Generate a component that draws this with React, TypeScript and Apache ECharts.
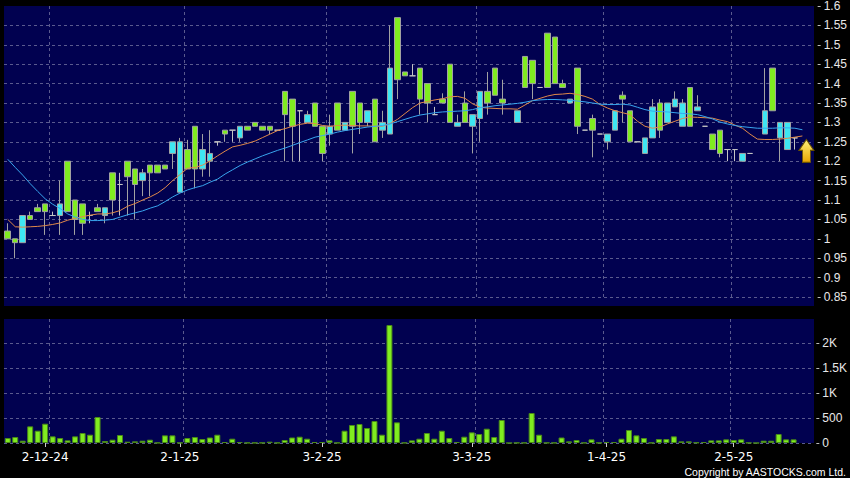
import React, { useEffect, useRef } from 'react';
import * as echarts from 'echarts';

const dates = [
  '25-11-24', '26-11-24', '27-11-24', '28-11-24', '29-11-24',
  '2-12-24', '3-12-24', '4-12-24', '5-12-24', '6-12-24', '9-12-24', '10-12-24', '11-12-24', '12-12-24', '13-12-24',
  '16-12-24', '17-12-24', '18-12-24', '19-12-24', '20-12-24', '23-12-24', '24-12-24', '27-12-24',
  '2-1-25', '3-1-25', '6-1-25', '7-1-25', '8-1-25', '9-1-25', '10-1-25', '13-1-25', '14-1-25', '15-1-25',
  '16-1-25', '17-1-25', '20-1-25', '21-1-25', '22-1-25', '23-1-25', '24-1-25', '27-1-25', '28-1-25',
  '3-2-25', '4-2-25', '5-2-25', '6-2-25', '7-2-25', '10-2-25', '11-2-25', '12-2-25', '13-2-25', '14-2-25',
  '17-2-25', '18-2-25', '19-2-25', '20-2-25', '21-2-25', '24-2-25', '25-2-25', '26-2-25', '27-2-25', '28-2-25',
  '3-3-25', '4-3-25', '5-3-25', '6-3-25', '7-3-25', '10-3-25', '11-3-25', '12-3-25', '13-3-25', '14-3-25',
  '17-3-25', '18-3-25', '19-3-25', '20-3-25', '21-3-25', '24-3-25', '25-3-25', '26-3-25',
  '1-4-25', '2-4-25', '3-4-25', '7-4-25', '8-4-25', '9-4-25', '10-4-25', '11-4-25', '14-4-25', '15-4-25',
  '16-4-25', '17-4-25', '22-4-25', '23-4-25', '24-4-25', '25-4-25', '28-4-25',
  '2-5-25', '6-5-25', '7-5-25', '8-5-25', '9-5-25', '12-5-25', '13-5-25', '14-5-25', '15-5-25', '16-5-25', '19-5-25',
];

// [open, close, low, high]; null = no trade
const ohlc: (number[] | null)[] = [
  [1.02, 1.00, 1.00, 1.04], [1.00, 0.99, 0.95, 1.00], [0.99, 1.06, 0.99, 1.06], [1.06, 1.05, 1.05, 1.07],
  [1.08, 1.07, 1.07, 1.09], [1.09, 1.07, 1.01, 1.09], [1.06, 1.06, 1.06, 1.07], [1.06, 1.09, 1.01, 1.15],
  [1.20, 1.07, 1.07, 1.20], [1.10, 1.05, 1.01, 1.10], [1.09, 1.04, 1.01, 1.09], [1.06, 1.06, 1.04, 1.07],
  [1.08, 1.07, 1.07, 1.09], [1.06, 1.08, 1.04, 1.08], [1.17, 1.10, 1.06, 1.17], [1.14, 1.14, 1.06, 1.17],
  [1.20, 1.16, 1.06, 1.20], [1.18, 1.14, 1.05, 1.18], [1.15, 1.17, 1.11, 1.18], [1.19, 1.17, 1.11, 1.19],
  [1.19, 1.17, 1.17, 1.19], [1.19, 1.18, 1.18, 1.19], [1.22, 1.25, 1.18, 1.25], [1.12, 1.25, 1.12, 1.26],
  [1.23, 1.18, 1.18, 1.255], [1.29, 1.18, 1.13, 1.29], [1.18, 1.23, 1.16, 1.27], [1.20, 1.22, 1.16, 1.28],
  [1.25, 1.25, 1.24, 1.25], [1.28, 1.27, 1.25, 1.28], [1.28, 1.28, 1.25, 1.28], [1.26, 1.29, 1.25, 1.29],
  [1.29, 1.28, 1.28, 1.29], [1.30, 1.29, 1.29, 1.30], [1.29, 1.28, 1.28, 1.29], [1.29, 1.28, 1.27, 1.29],
  [1.28, 1.28, 1.28, 1.28], [1.38, 1.32, 1.20, 1.38], [1.36, 1.29, 1.20, 1.36], [1.33, 1.33, 1.20, 1.33],
  [1.30, 1.32, 1.30, 1.33], [1.35, 1.29, 1.29, 1.35], [1.29, 1.22, 1.20, 1.29], [1.27, 1.29, 1.24, 1.32],
  [1.35, 1.28, 1.28, 1.35], [1.28, 1.30, 1.28, 1.30], [1.38, 1.29, 1.22, 1.38], [1.35, 1.30, 1.27, 1.35],
  [1.30, 1.33, 1.29, 1.33], [1.36, 1.25, 1.25, 1.36], [1.28, 1.30, 1.26, 1.33], [1.27, 1.44, 1.27, 1.55],
  [1.57, 1.41, 1.36, 1.57], [1.43, 1.42, 1.42, 1.43], [1.42, 1.42, 1.42, 1.45], [1.44, 1.36, 1.32, 1.44],
  [1.40, 1.35, 1.30, 1.40], [1.32, 1.32, 1.32, 1.34], [1.36, 1.35, 1.35, 1.375], [1.45, 1.30, 1.30, 1.45],
  [1.29, 1.30, 1.29, 1.32], [1.35, 1.30, 1.30, 1.38], [1.29, 1.32, 1.22, 1.32], [1.31, 1.38, 1.25, 1.38],
  [1.38, 1.35, 1.32, 1.43], [1.44, 1.37, 1.37, 1.44], [1.36, 1.35, 1.32, 1.41], null,
  [1.30, 1.33, 1.30, 1.33], [1.47, 1.39, 1.39, 1.47], [1.46, 1.40, 1.36, 1.46], [1.39, 1.39, 1.39, 1.39],
  [1.53, 1.39, 1.39, 1.53], [1.52, 1.40, 1.40, 1.52], [1.40, 1.39, 1.39, 1.41], [1.35, 1.36, 1.35, 1.36],
  [1.44, 1.29, 1.27, 1.44], [1.28, 1.28, 1.28, 1.28], [1.31, 1.28, 1.21, 1.32], [1.27, 1.27, 1.27, 1.27],
  [1.25, 1.27, 1.23, 1.27], [1.28, 1.33, 1.28, 1.33], [1.37, 1.36, 1.30, 1.38], [1.33, 1.25, 1.25, 1.33],
  [1.25, 1.25, 1.25, 1.25], [1.22, 1.26, 1.22, 1.26], [1.26, 1.34, 1.26, 1.36], [1.35, 1.28, 1.26, 1.36],
  [1.30, 1.35, 1.30, 1.35], [1.34, 1.36, 1.34, 1.38], [1.29, 1.35, 1.29, 1.36], [1.39, 1.29, 1.29, 1.39],
  [1.33, 1.34, 1.33, 1.37], [1.29, 1.29, 1.29, 1.29], [1.27, 1.23, 1.23, 1.27], [1.28, 1.22, 1.21, 1.28],
  [1.23, 1.23, 1.20, 1.23], [1.23, 1.23, 1.20, 1.23], [1.20, 1.22, 1.20, 1.22], [1.22, 1.22, 1.22, 1.22],
  null, [1.27, 1.33, 1.27, 1.44], [1.44, 1.33, 1.33, 1.44], [1.26, 1.30, 1.20, 1.30],
  [1.23, 1.30, 1.23, 1.30], [1.26, 1.26, 1.23, 1.26], null, null,
];

const ma10: (number | string)[] = [
  1.05, 1.031, 1.030, 1.031, 1.032, 1.034, 1.037, 1.041, 1.048, 1.053,
  1.057, 1.061, 1.064, 1.064, 1.067, 1.073, 1.084, 1.091, 1.100, 1.108,
  1.118, 1.132, 1.150, 1.166, 1.182, 1.184, 1.190, 1.201, 1.214, 1.226,
  1.237, 1.241, 1.246, 1.252, 1.261, 1.270, 1.279, 1.284, 1.290, 1.295,
  1.298, 1.297, 1.292, 1.290, 1.292, 1.293, 1.292, 1.291, 1.291, 1.290,
  1.290, 1.297, 1.308, 1.323, 1.338, 1.350, 1.354, 1.358, 1.361, 1.366,
  1.367, 1.362, 1.348, 1.339, 1.337, 1.336, 1.335, 1.335, 1.334, 1.345,
  1.356, 1.362, 1.368, 1.372, 1.373, 1.375, 1.372, 1.367, 1.360, 1.346,
  1.337, 1.330, 1.325, 1.320, 1.303, 1.290, 1.285, 1.288, 1.296, 1.303,
  1.310, 1.314, 1.313, 1.312, 1.311, 1.306, 1.302, 1.293, 1.285, 1.270,
  1.257, 1.256, 1.256, 1.257, 1.259, 1.262, 1.265, '-',
];

const ma20: (number | string)[] = [
  1.205, 1.184, 1.164, 1.142, 1.122, 1.103, 1.089, 1.078, 1.064, 1.056,
  1.050, 1.047, 1.047, 1.048, 1.050, 1.056, 1.062, 1.067, 1.072, 1.079,
  1.085, 1.096, 1.108, 1.118, 1.126, 1.132, 1.137, 1.146, 1.154, 1.167,
  1.178, 1.189, 1.198, 1.206, 1.214, 1.221, 1.228, 1.234, 1.241, 1.248,
  1.255, 1.262, 1.266, 1.270, 1.275, 1.279, 1.282, 1.285, 1.288, 1.290,
  1.292, 1.296, 1.302, 1.308, 1.314, 1.319, 1.322, 1.325, 1.327, 1.328,
  1.329, 1.330, 1.333, 1.338, 1.340, 1.343, 1.345, 1.347, 1.349, 1.352,
  1.356, 1.358, 1.359, 1.359, 1.358, 1.357, 1.355, 1.353, 1.350, 1.347,
  1.346, 1.346, 1.347, 1.345, 1.339, 1.333, 1.329, 1.328, 1.327, 1.325,
  1.323, 1.322, 1.320, 1.315, 1.309, 1.301, 1.296, 1.292, 1.289, 1.287,
  1.285, 1.285, 1.285, 1.286, 1.286, 1.285, 1.281, '-',
];

const volumes: (number | string)[] = [
  100, 120, 46, 333, 246, 386, 133, 100, 53, 133,
  200, 166, 520, 40, 66, 160, 26, 33, 46, 66,
  5, 153, 153, 5, 100, 120, 80, 110, 166, 20,
  86, 20, 5, 5, 5, 26, 5, 60, 110, 126,
  86, 20, 20, 53, 5, 246, 360, 380, 300, 440,
  166, 2360, 413, 5, 53, 86, 200, 86, 246, 100,
  20, 126, 213, 180, 286, 120, 460, 0, 5, 5,
  600, 166, 5, 5, 110, 33, 60, 5, 73, 5,
  20, 20, 86, 260, 153, 100, 5, 80, 80, 133,
  33, 33, 10, 20, 53, 53, 73, 60, 73, 5,
  0, 46, 46, 180, 73, 73, '-', '-',
];

const labelDates = ['2-12-24', '2-1-25', '3-2-25', '3-3-25', '1-4-25', '2-5-25'];
const gridDates = ['3-12-24', '3-1-25', '4-2-25', '4-3-25', '1-4-25', '2-5-25'];
const arrowDate = '16-5-25';
const arrowPrice = 1.256;

const NAVY = '#010150';
const CYAN = '#3ee6f2';
const GREEN = '#80ec20';
const GRID_LINE = { color: '#5a5a8e', type: [3, 3], width: 1 };

export default function App() {
  const ref = useRef<HTMLDivElement>(null);
  useEffect(() => {
    const chart = echarts.init(ref.current as HTMLDivElement, null, { renderer: 'svg' });
    const candleData = ohlc.map((d) => (d ? d : ['-', '-', '-', '-']));
    const gridFn = (_i: number, v: string) => gridDates.includes(v);
    const labelFn = (_i: number, v: string) => labelDates.includes(v);
    chart.setOption({
      animation: false,
      backgroundColor: '#000000',
      grid: [
        { left: 4, right: 36, top: 6, height: 291 },
        { left: 4, right: 36, top: 319, height: 124 },
      ],
      graphic: [
        { type: 'rect', z: -10, silent: true, shape: { x: 4, y: 6, width: 810, height: 300 }, style: { fill: NAVY } },
        { type: 'rect', z: -10, silent: true, shape: { x: 4, y: 319, width: 810, height: 124 }, style: { fill: NAVY } },
        {
          type: 'text', x: 846, y: 472, silent: true,
          style: {
            text: 'Copyright by AASTOCKS.com Ltd.', fill: '#ffffff',
            font: '10.5px "Liberation Sans", Arial, sans-serif',
            textAlign: 'right', textVerticalAlign: 'middle', align: 'right', verticalAlign: 'middle',
          },
        },
      ],
      xAxis: [
        {
          type: 'category', gridIndex: 0, data: dates, boundaryGap: true,
          axisLine: { show: false }, axisTick: { show: false }, axisLabel: { show: false },
          splitLine: { show: true, interval: gridFn, showMaxLine: false, lineStyle: GRID_LINE },
        },
        {
          type: 'category', gridIndex: 1, data: dates, boundaryGap: true,
          axisLine: { show: false },
          axisTick: { show: true, alignWithLabel: true, interval: labelFn, length: 4, lineStyle: { color: '#cccccc' } },
          axisLabel: {
            show: true, interval: labelFn, color: '#ffffff', fontFamily: 'DejaVu Sans', fontSize: 12, margin: 8,
          },
          splitLine: { show: true, interval: gridFn, showMaxLine: false, lineStyle: GRID_LINE },
        },
      ],
      yAxis: [
        {
          type: 'value', gridIndex: 0, position: 'right', min: 0.85, max: 1.6, interval: 0.05, offset: 4,
          axisLine: { show: false },
          axisTick: { show: true, length: 3, lineStyle: { color: '#bbbbbb' } },
          axisLabel: { color: '#e8e8e8', fontFamily: 'Liberation Sans', fontSize: 12, margin: 6 },
          splitLine: { show: true, showMaxLine: false, lineStyle: GRID_LINE },
        },
        {
          type: 'value', gridIndex: 1, position: 'right', min: 0, max: 2480, interval: 500, offset: 4,
          axisLine: { show: false },
          axisTick: { show: true, length: 3, lineStyle: { color: '#bbbbbb' } },
          axisLabel: {
            color: '#e8e8e8', fontFamily: 'Liberation Sans', fontSize: 12, margin: 6, showMaxLabel: false,
            formatter: (v: number) => (v >= 1000 ? v / 1000 + 'K' : String(v)),
          },
          splitLine: { show: true, showMaxLine: false, lineStyle: GRID_LINE },
        },
      ],
      series: [
        {
          type: 'candlestick', xAxisIndex: 0, yAxisIndex: 0, data: candleData, barWidth: 6,
          itemStyle: {
            color: CYAN, color0: GREEN, borderColor: '#a2a2a2', borderColor0: '#a2a2a2',
            borderColorDoji: '#c4c4c4', borderWidth: 1,
          },
          markPoint: {
            symbol: 'path://M7.5,0 L15,11 L11.5,11 L11.5,23 L3.5,23 L3.5,11 L0,11 Z',
            symbolSize: [15, 23],
            symbolOffset: [4, '50%'],
            label: { show: false },
            itemStyle: {
              color: {
                type: 'linear', x: 0, y: 0, x2: 0, y2: 1,
                colorStops: [{ offset: 0, color: '#fff27a' }, { offset: 1, color: '#e8a400' }],
              },
              borderColor: '#6b5200', borderWidth: 1,
            },
            data: [{ coord: [arrowDate, arrowPrice] }],
          },
        },
        {
          type: 'line', xAxisIndex: 0, yAxisIndex: 0, data: ma10, symbol: 'none', silent: true,
          lineStyle: { color: '#e0894a', width: 1 },
        },
        {
          type: 'line', xAxisIndex: 0, yAxisIndex: 0, data: ma20, symbol: 'none', silent: true,
          lineStyle: { color: '#39a6ee', width: 1 },
        },
        {
          type: 'bar', xAxisIndex: 1, yAxisIndex: 1, data: volumes, barWidth: 6,
          itemStyle: { color: GREEN, borderColor: '#4a8a18', borderWidth: 1 },
        },
      ],
    });
    return () => chart.dispose();
  }, []);
  return <div ref={ref} style={{ position: 'fixed', left: 0, top: 0, width: 850, height: 478 }} />;
}
